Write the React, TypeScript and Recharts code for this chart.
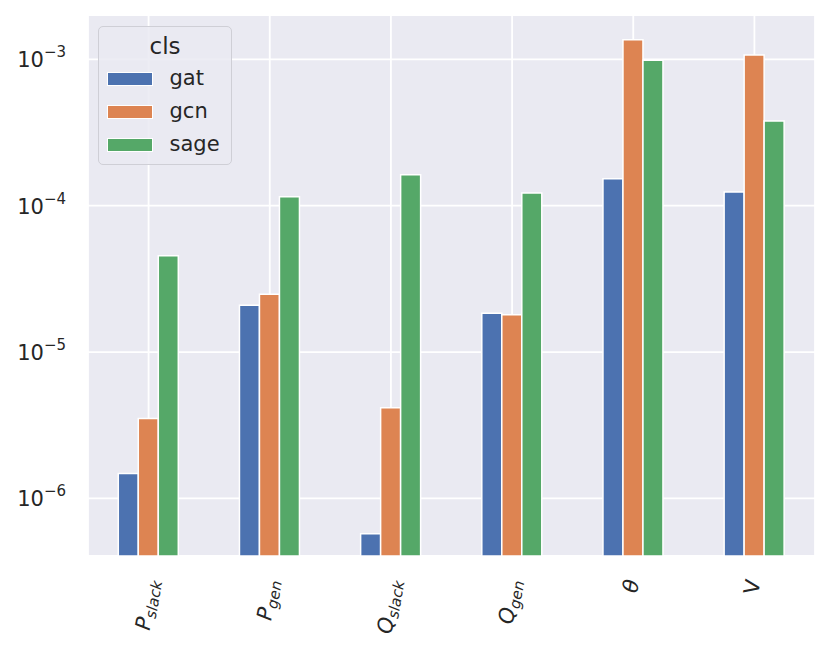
import React from 'react';
import { BarChart, Bar, XAxis, YAxis, CartesianGrid } from 'recharts';

const categories = ['P_slack', 'P_gen', 'Q_slack', 'Q_gen', 'theta', 'V'];
const labelMain = ['P', 'P', 'Q', 'Q', 'θ', 'V'];
const labelSub = ['slack', 'gen', 'slack', 'gen', '', ''];
const labelItalic = [true, true, true, true, true, false];

const gat = [1.48e-6, 2.09e-5, 5.74e-7, 1.84e-5, 1.53e-4, 1.24e-4];
const gcn = [3.52e-6, 2.48e-5, 4.16e-6, 1.8e-5, 1.36e-3, 1.07e-3];
const sage = [4.55e-5, 1.15e-4, 1.63e-4, 1.22e-4, 0.985e-3, 3.79e-4];

const seriesNames = ['gat', 'gcn', 'sage'];
const seriesColors = ['#4C72B0', '#DD8452', '#55A868'];

const yTicks = [1e-6, 1e-5, 1e-4, 1e-3];
const yDomain = [4.04e-7, 2.01e-3];

const data = categories.map((name, i) => ({ name, gat: gat[i], gcn: gcn[i], sage: sage[i] }));

const FONT = '"DejaVu Sans", sans-serif';
const TEXT = '#262626';

const YTick = ({ x, y, payload }: any) => {
  const exp = Math.round(Math.log10(payload.value));
  return (
    <text x={x - 22} y={y + 8} textAnchor="end" fill={TEXT} fontFamily={FONT} fontSize={21}>
      <tspan>10</tspan>
      <tspan dy={-10} fontSize={15}>{exp < 0 ? '\u2212' + Math.abs(exp) : String(exp)}</tspan>
    </text>
  );
};

const XTick = ({ x, y, payload }: any) => {
  const i = categories.indexOf(payload.value);
  const main = labelMain[i];
  const sub = labelSub[i];
  const len = 12.6 + sub.length * 8.3;
  const px = x + 0.087 * len + 5;
  const py = y + 25;
  return (
    <g transform={`translate(${px},${py}) rotate(-80)`}>
      <text
        x={0}
        y={0}
        textAnchor="end"
        fill={TEXT}
        fontFamily={FONT}
        fontStyle={labelItalic[i] ? 'italic' : 'normal'}
        fontSize={21}
      >
        <tspan>{main}</tspan>
        {sub ? <tspan dy={4} fontSize={15}>{sub}</tspan> : null}
      </text>
    </g>
  );
};

function LegendBox() {
  return (
    <div
      style={{
        position: 'absolute',
        left: 98,
        top: 26,
        width: 134,
        height: 139,
        boxSizing: 'border-box',
        border: '1.5px solid #cfcfd6',
        borderRadius: 5,
        background: 'rgba(234,234,242,0.85)',
        fontFamily: FONT,
        color: TEXT,
      }}
    >
      <div style={{ position: 'absolute', left: 0, width: '100%', top: 7.5, textAlign: 'center', fontSize: 23, lineHeight: '23px' }}>
        cls
      </div>
      {seriesNames.map((n, k) => (
        <React.Fragment key={n}>
          <div
            style={{
              position: 'absolute',
              left: 7.5,
              top: 44.5 + k * 33,
              width: 46,
              height: 14,
              boxSizing: 'border-box',
              border: '1.5px solid #fff',
              background: seriesColors[k],
            }}
          />
          <div style={{ position: 'absolute', left: 70.5, top: 41 + k * 33, fontSize: 21, lineHeight: '21px' }}>{n}</div>
        </React.Fragment>
      ))}
    </div>
  );
}

export default function App() {
  return (
    <div style={{ position: 'absolute', left: 0, top: 0, width: 831, height: 651, background: '#fff' }}>
      <BarChart
        width={831}
        height={651}
        data={data}
        margin={{ top: 15, right: 16, bottom: 0, left: 8 }}
        barCategoryGap="25%"
        barGap={0}
      >
        <CartesianGrid fill="#EAEAF2" fillOpacity={1} stroke="#ffffff" strokeWidth={1.8} />
        <XAxis
          dataKey="name"
          height={95}
          axisLine={false}
          tickLine={false}
          tickSize={0}
          tickMargin={0}
          tick={<XTick />}
          interval={0}
        />
        <YAxis
          type="number"
          scale="log"
          domain={yDomain}
          allowDataOverflow
          ticks={yTicks}
          width={80}
          axisLine={false}
          tickLine={false}
          tickSize={0}
          tickMargin={0}
          tick={<YTick />}
        />
        {seriesNames.map((n, k) => (
          <Bar key={n} dataKey={n} name={n} fill={seriesColors[k]} stroke="#ffffff" strokeWidth={1.5} isAnimationActive={false} />
        ))}
      </BarChart>
      <LegendBox />
    </div>
  );
}
